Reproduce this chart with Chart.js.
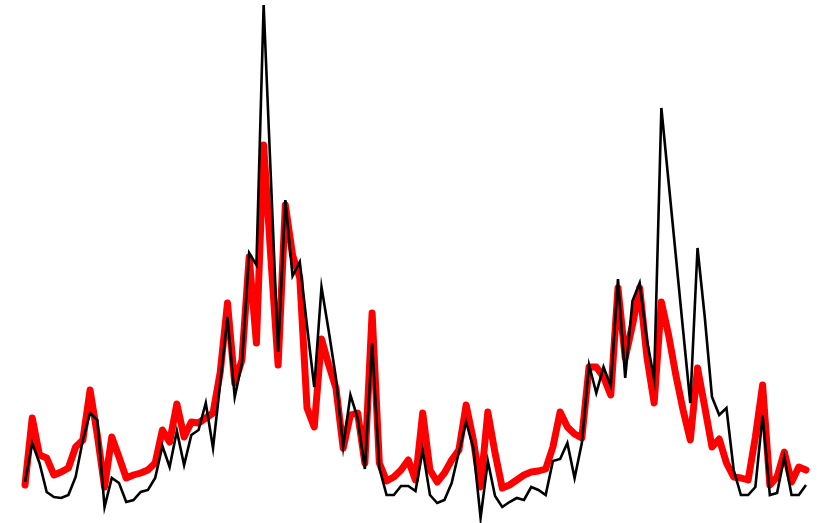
<!DOCTYPE html>
<html>
<head>
<meta charset="utf-8">
<script src="https://cdn.jsdelivr.net/npm/chart.js@4/dist/chart.umd.min.js"></script>
<style>
  html, body { margin: 0; padding: 0; background: #ffffff; }
  #wrap { width: 826px; height: 523px; }
</style>
</head>
<body>
<div id="wrap"><canvas id="c" width="826" height="523"></canvas></div>
<script>
// Observation index (categories)
const categories = Array.from({ length: 109 }, (_, i) => String(i + 1));

// Black series (thin line)
const blackSeries = [
  3.8, 7.7, 5.7, 2.8, 2.3, 2.2, 2.5, 4.3, 8.0, 10.7,
  10.0, 1.3, 4.2, 3.7, 1.8, 2.0, 2.8, 3.0, 4.2, 7.4,
  5.3, 8.9, 5.5, 8.5, 9.0, 11.7, 7.2, 13.7, 20.3, 12.3,
  15.7, 26.7, 25.5, 51.5, 34.2, 16.8, 32.0, 24.4, 25.8, 19.4,
  13.3, 23.3, 18.9, 14.2, 7.3, 12.5, 10.2, 5.1, 17.7, 5.2,
  2.5, 2.5, 3.4, 3.4, 2.9, 7.0, 2.5, 1.7, 2.0, 3.7,
  6.8, 9.8, 7.2, 0.2, 5.9, 2.4, 1.3, 1.8, 2.2, 2.0,
  3.3, 3.0, 2.5, 5.9, 6.1, 7.7, 4.2, 7.7, 15.5, 12.7,
  15.3, 13.4, 24.1, 14.2, 21.9, 23.7, 18.0, 14.1, 41.2, 33.8,
  26.4, 19.0, 11.7, 27.2, 20.3, 12.3, 10.5, 11.2, 5.0, 2.5,
  2.5, 3.3, 10.5, 2.5, 2.7, 6.3, 2.5, 2.5, 3.5
];

// Red series (thick line)
const redSeries = [
  3.5, 10.2, 6.5, 6.2, 4.5, 4.8, 5.2, 7.3, 8.0, 13.0,
  8.5, 3.3, 8.3, 6.3, 4.2, 4.5, 4.7, 5.0, 5.7, 9.0,
  7.8, 11.6, 8.3, 9.8, 9.7, 10.2, 10.7, 14.8, 21.7, 13.7,
  16.0, 26.3, 17.7, 37.5, 26.2, 15.5, 31.5, 26.5, 24.2, 11.2,
  9.3, 18.1, 15.5, 13.2, 7.2, 10.5, 10.7, 5.7, 20.7, 5.7,
  3.9, 4.3, 5.0, 6.0, 4.0, 10.7, 5.0, 3.8, 4.7, 6.0,
  7.0, 11.5, 8.0, 3.3, 10.8, 6.7, 3.2, 3.5, 4.0, 4.5,
  4.8, 4.9, 5.1, 7.3, 10.8, 9.3, 8.6, 8.2, 15.3, 15.3,
  14.3, 12.5, 23.2, 16.2, 19.5, 23.2, 16.3, 11.7, 21.8, 18.5,
  14.5, 11.0, 8.0, 15.2, 11.3, 7.3, 8.1, 5.7, 4.3, 4.2,
  4.0, 8.3, 13.5, 3.5, 4.3, 6.8, 3.8, 5.3, 5.0
];

new Chart(document.getElementById('c'), {
  type: 'line',
  data: {
    labels: categories,
    datasets: [
      {
        label: 'black',
        data: blackSeries,
        borderColor: '#000000',
        borderWidth: 2.6,
        borderJoinStyle: 'miter',
        pointRadius: 0,
        tension: 0,
        fill: false,
        order: 0,
        clip: false
      },
      {
        label: 'red',
        data: redSeries,
        borderColor: '#ff0000',
        borderWidth: 7,
        borderJoinStyle: 'round',
        borderCapStyle: 'round',
        pointRadius: 0,
        tension: 0,
        fill: false,
        order: 1,
        clip: false
      }
    ]
  },
  options: {
    responsive: false,
    animation: false,
    devicePixelRatio: 1,
    layout: { padding: { left: 25, right: 20, top: 0, bottom: 0 } },
    plugins: { legend: { display: false }, tooltip: { enabled: false } },
    scales: {
      x: { display: false, offset: false },
      y: { display: false, min: -0.3, max: 52.0 }
    }
  }
});
</script>
</body>
</html>
